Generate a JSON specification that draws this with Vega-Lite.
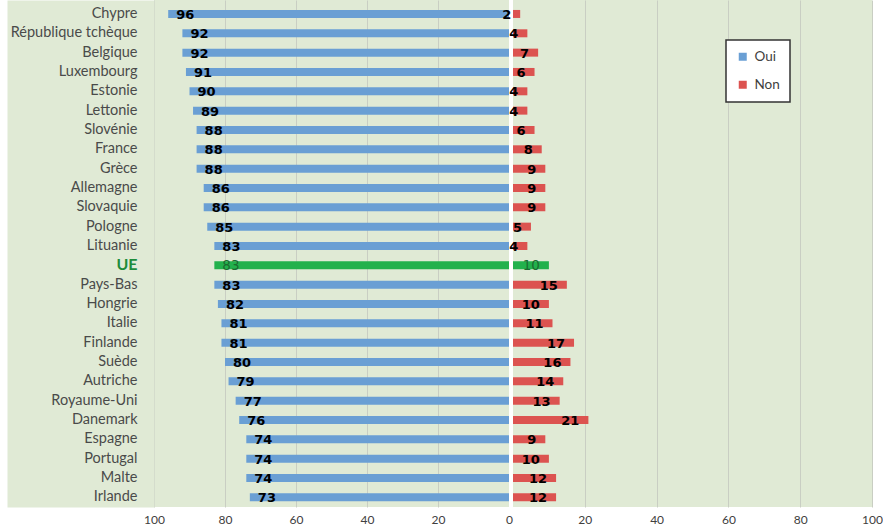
{
  "$schema": "https://vega.github.io/schema/vega-lite/v6.json",
  "autosize": {"type": "pad"},
  "padding": {"left": 7, "top": 0, "right": 0, "bottom": 0},
  "background": "white",
  "bounds": "flush",
  "spacing": 4,
  "config": {
    "font": "Lato",
    "view": {"fill": "#e0ead5", "stroke": null},
    "legend": {"strokeWidth": 1.5}
  },
  "data": {
    "values": [
      {"pays": "Chypre", "Oui": 96, "Non": 2},
      {"pays": "République tchèque", "Oui": 92, "Non": 4},
      {"pays": "Belgique", "Oui": 92, "Non": 7},
      {"pays": "Luxembourg", "Oui": 91, "Non": 6},
      {"pays": "Estonie", "Oui": 90, "Non": 4},
      {"pays": "Lettonie", "Oui": 89, "Non": 4},
      {"pays": "Slovénie", "Oui": 88, "Non": 6},
      {"pays": "France", "Oui": 88, "Non": 8},
      {"pays": "Grèce", "Oui": 88, "Non": 9},
      {"pays": "Allemagne", "Oui": 86, "Non": 9},
      {"pays": "Slovaquie", "Oui": 86, "Non": 9},
      {"pays": "Pologne", "Oui": 85, "Non": 5},
      {"pays": "Lituanie", "Oui": 83, "Non": 4},
      {"pays": "UE", "Oui": 83, "Non": 10},
      {"pays": "Pays-Bas", "Oui": 83, "Non": 15},
      {"pays": "Hongrie", "Oui": 82, "Non": 10},
      {"pays": "Italie", "Oui": 81, "Non": 11},
      {"pays": "Finlande", "Oui": 81, "Non": 17},
      {"pays": "Suède", "Oui": 80, "Non": 16},
      {"pays": "Autriche", "Oui": 79, "Non": 14},
      {"pays": "Royaume-Uni", "Oui": 77, "Non": 13},
      {"pays": "Danemark", "Oui": 76, "Non": 21},
      {"pays": "Espagne", "Oui": 74, "Non": 9},
      {"pays": "Portugal", "Oui": 74, "Non": 10},
      {"pays": "Malte", "Oui": 74, "Non": 12},
      {"pays": "Irlande", "Oui": 73, "Non": 12}
    ]
  },
  "transform": [{"fold": ["Oui", "Non"], "as": ["reponse", "valeur"]}],
  "hconcat": [
    {
      "width": 355,
      "height": 507,
      "transform": [{"filter": "datum.reponse === 'Oui'"}],
      "resolve": {"scale": {"y": "independent"}},
      "layer": [
        {
          "encoding": {
            "y": {
              "field": "pays", "type": "nominal", "sort": null,
              "scale": {"paddingInner": 0, "paddingOuter": 0.111, "align": 1},
              "axis": {
                "orient": "left", "title": null, "ticks": false, "tickSize": 0, "labels": false,
                "domain": true, "domainColor": "#e0ead5", "domainWidth": 147, "domainCap": "butt",
                "offset": 73.5, "grid": false, "zindex": 0
              }
            }
          },
          "layer": [
            {
              "mark": {"type": "bar", "size": 8},
              "encoding": {
                "x": {
                  "field": "valeur", "type": "quantitative",
                  "scale": {"domain": [0, 100], "reverse": true, "nice": false},
                  "axis": {
                    "title": null, "values": [100, 80, 60, 40, 20, 0], "ticks": false, "domain": false,
                    "labelPadding": 7, "labelFontSize": 12, "labelColor": "#404040", "labelFlush": false,
                    "gridColor": "#c9cec3",
                    "gridOpacity": {"condition": {"test": "datum.value === 0", "value": 0}, "value": 1}
                  }
                },
                "color": {
                  "condition": {"test": "datum.pays === 'UE'", "value": "#22b14c"},
                  "field": "reponse", "type": "nominal",
                  "scale": {"domain": ["Oui", "Non"], "range": ["#6a9fd4", "#dc5350"]},
                  "legend": {
                    "title": null, "orient": "none", "legendX": 572, "legendY": 40,
                    "symbolType": "square", "symbolSize": 64, "symbolStrokeWidth": 0,
                    "fillColor": "white", "strokeColor": "#333333", "padding": 10,
                    "labelFontSize": 13.5, "labelColor": "#404040", "rowPadding": 13, "labelOffset": 5
                  }
                }
              }
            },
            {
              "transform": [{"filter": "datum.pays !== 'UE'"}],
              "mark": {"type": "text", "align": "left", "dx": 8, "baseline": "middle", "dy": 1, "font": "DejaVu Sans", "fontWeight": "bold", "fontSize": 13, "color": "black"},
              "encoding": {
                "x": {"field": "valeur", "type": "quantitative"},
                "text": {"field": "valeur", "type": "quantitative"}
              }
            },
            {
              "transform": [{"filter": "datum.pays === 'UE'"}],
              "mark": {"type": "text", "align": "left", "dx": 8, "baseline": "middle", "dy": 1, "font": "DejaVu Sans", "fontWeight": "normal", "fontSize": 13.5, "color": "#1b6b30"},
              "encoding": {
                "x": {"field": "valeur", "type": "quantitative"},
                "text": {"field": "valeur", "type": "quantitative"}
              }
            }
          ]
        },
        {
          "mark": {"type": "tick", "opacity": 0},
          "encoding": {
            "y": {
              "field": "pays", "type": "nominal", "sort": null,
              "scale": {"paddingInner": 0, "paddingOuter": 0.111, "align": 1},
              "axis": {
                "orient": "left", "title": " ", "titleX": -147, "titleY": 0, "titleAngle": 0,
                "titleAlign": "left", "titleBaseline": "top", "titleFontSize": 2,
                "ticks": false, "tickSize": 0, "domain": false, "grid": false, "zindex": 1,
                "labelPadding": 17, "labelLimit": 200, "labelFont": "Lato",
                "labelFontSize": {"condition": {"test": "datum.value === 'UE'", "value": 16}, "value": 14.5},
                "labelColor": {"condition": {"test": "datum.value === 'UE'", "value": "#1e8c3a"}, "value": "#4a4a4a"},
                "labelFontWeight": {"condition": {"test": "datum.value === 'UE'", "value": "bold"}, "value": "normal"}
              }
            }
          }
        }
      ]
    },
    {
      "width": 359,
      "height": 507,
      "transform": [{"filter": "datum.reponse === 'Non'"}],
      "encoding": {
        "y": {
          "field": "pays", "type": "nominal", "sort": null,
          "scale": {"paddingInner": 0, "paddingOuter": 0.111, "align": 1},
          "axis": null
        }
      },
      "layer": [
        {
          "mark": {"type": "bar", "size": 8},
          "encoding": {
            "x": {
              "field": "valeur", "type": "quantitative",
              "scale": {"domain": [0, 100], "nice": false},
              "axis": {
                "title": null, "values": [20, 40, 60, 80, 100], "ticks": false, "domain": false,
                "labelPadding": 7, "labelFontSize": 12, "labelColor": "#404040", "labelFlush": false,
                "gridColor": "#c9cec3"
              }
            },
            "color": {
              "condition": {"test": "datum.pays === 'UE'", "value": "#22b14c"},
              "field": "reponse", "type": "nominal",
              "scale": {"domain": ["Oui", "Non"], "range": ["#6a9fd4", "#dc5350"]}
            }
          }
        },
        {
          "transform": [{"filter": "datum.pays !== 'UE'"}],
          "mark": {"type": "text", "align": "right", "dx": -9, "baseline": "middle", "dy": 1, "font": "DejaVu Sans", "fontWeight": "bold", "fontSize": 13, "color": "black"},
          "encoding": {
            "x": {"field": "valeur", "type": "quantitative"},
            "text": {"field": "valeur", "type": "quantitative"}
          }
        },
        {
          "transform": [{"filter": "datum.pays === 'UE'"}],
          "mark": {"type": "text", "align": "right", "dx": -9, "baseline": "middle", "dy": 1, "font": "DejaVu Sans", "fontWeight": "normal", "fontSize": 13.5, "color": "#1b6b30"},
          "encoding": {
            "x": {"field": "valeur", "type": "quantitative"},
            "text": {"field": "valeur", "type": "quantitative"}
          }
        }
      ]
    }
  ]
}
